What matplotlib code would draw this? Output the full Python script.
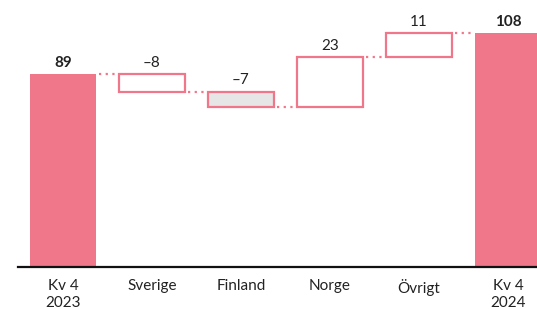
import matplotlib.pyplot as plt

categories = ["Kv 4\n2023", "Sverige", "Finland", "Norge", "Övrigt", "Kv 4\n2024"]
start_value = 89
changes = [-8, -7, 23, 11]
end_value = 108
change_labels = ["\u20138", "\u20137", "23", "11"]

pink = "#F07689"
gray_fill = "#E6E6E6"

plt.rcParams["font.family"] = ["Lato", "DejaVu Sans"]

fig = plt.figure(figsize=(5.37, 3.09), dpi=100)
ax = fig.add_axes([0.0335, 0.136, 0.9665, 0.841])

w = 0.74
x = list(range(len(categories)))

# start / end totals
ax.bar(x[0], start_value, width=w, color=pink)
ax.bar(x[-1], end_value, width=w, color=pink)
ax.annotate(str(start_value), (x[0], start_value), xytext=(0, 3), textcoords="offset points",
            ha="center", va="bottom", fontsize=11, fontweight="bold", color="#222222")
ax.annotate(str(end_value), (x[-1], end_value), xytext=(0, 3), textcoords="offset points",
            ha="center", va="bottom", fontsize=11, fontweight="bold", color="#222222")

# floating boxes
level = start_value
levels = [level]
for i, (c, lab) in enumerate(zip(changes, change_labels)):
    bottom = level + min(c, 0)
    face = gray_fill if i == 1 else "white"
    ax.bar(x[i + 1], abs(c), bottom=bottom, width=w, facecolor=face,
           edgecolor=pink, linewidth=1.6)
    top = bottom + abs(c)
    ax.annotate(lab, (x[i + 1], top), xytext=(0, 3), textcoords="offset points",
                ha="center", va="bottom", fontsize=11, color="#222222")
    level += c
    levels.append(level)

# dotted connectors
for i, lv in enumerate(levels):
    ax.plot([x[i] + w / 2 + 0.04, x[i + 1] - w / 2 - 0.04], [lv, lv],
            linestyle=(0, (1, 2)), color=pink, linewidth=1.6)

ax.set_xlim(-0.505, 5.326)
ax.set_ylim(0, 120)
ax.set_xticks(x)
ax.set_xticklabels(categories, fontsize=11, color="#222222", linespacing=1.2)
ax.tick_params(axis="x", length=0, pad=9)
ax.set_yticks([])
for s in ["top", "right", "left"]:
    ax.spines[s].set_visible(False)
ax.spines["bottom"].set_linewidth(1.6)
ax.spines["bottom"].set_color("#111111")

fig.savefig("out.png", dpi=100)
